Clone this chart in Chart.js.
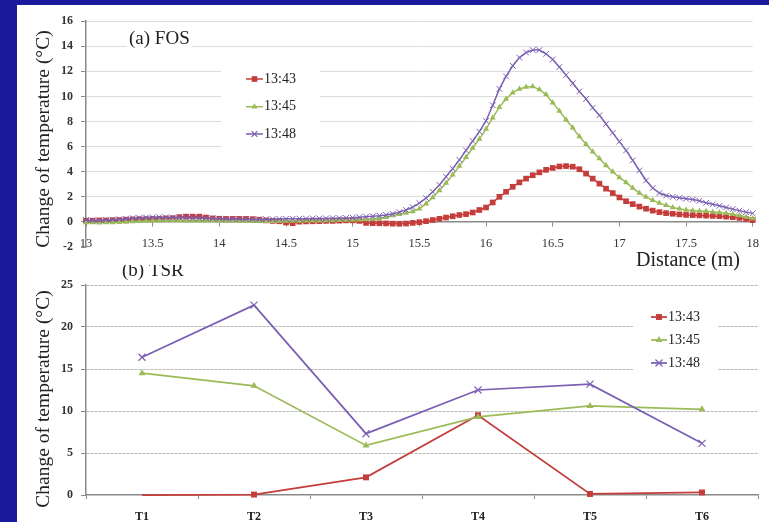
<!DOCTYPE html>
<html>
<head>
<meta charset="utf-8">
<script src="https://cdn.jsdelivr.net/npm/chart.js@4.4.1/dist/chart.umd.min.js"></script>
<style>
  html, body { margin: 0; padding: 0; width: 769px; height: 522px; overflow: hidden; background: #1a1a9c; }
  #panel { position: absolute; left: 17px; top: 5px; width: 752px; height: 517px; background: #ffffff; }
  #tsr { position: absolute; left: 17px; top: 265px; }
  #fos { position: absolute; left: 17px; top: 6px; }
</style>
</head>
<body>
<div id="panel"></div>
<canvas id="tsr" width="752" height="257"></canvas>
<canvas id="fos" width="752" height="266"></canvas>
<script>
// ---- (a) FOS: temperature change along the fibre (distance in m) ----
const distance = [
  13.00, 13.05, 13.10, 13.15, 13.20, 13.25, 13.30, 13.35, 13.40, 13.45,
  13.50, 13.55, 13.60, 13.65, 13.70, 13.75, 13.80, 13.85, 13.90, 13.95,
  14.00, 14.05, 14.10, 14.15, 14.20, 14.25, 14.30, 14.35, 14.40, 14.45,
  14.50, 14.55, 14.60, 14.65, 14.70, 14.75, 14.80, 14.85, 14.90, 14.95,
  15.00, 15.05, 15.10, 15.15, 15.20, 15.25, 15.30, 15.35, 15.40, 15.45,
  15.50, 15.55, 15.60, 15.65, 15.70, 15.75, 15.80, 15.85, 15.90, 15.95,
  16.00, 16.05, 16.10, 16.15, 16.20, 16.25, 16.30, 16.35, 16.40, 16.45,
  16.50, 16.55, 16.60, 16.65, 16.70, 16.75, 16.80, 16.85, 16.90, 16.95,
  17.00, 17.05, 17.10, 17.15, 17.20, 17.25, 17.30, 17.35, 17.40, 17.45,
  17.50, 17.55, 17.60, 17.65, 17.70, 17.75, 17.80, 17.85, 17.90, 17.95,
  18.00
];
const fos1343 = [
  0.10, 0.10, 0.12, 0.12, 0.14, 0.15, 0.18, 0.20, 0.22, 0.22,
  0.24, 0.25, 0.28, 0.30, 0.38, 0.42, 0.42, 0.42, 0.35, 0.28,
  0.25, 0.24, 0.24, 0.24, 0.24, 0.22, 0.18, 0.12, 0.08, 0.05,
  -0.05, -0.10, 0.02, 0.04, 0.05, 0.06, 0.08, 0.08, 0.10, 0.12,
  0.12, 0.08, -0.08, -0.10, -0.11, -0.12, -0.14, -0.15, -0.13, -0.08,
  -0.02, 0.06, 0.15, 0.25, 0.35, 0.45, 0.55, 0.62, 0.75, 0.95,
  1.15, 1.55, 2.00, 2.40, 2.80, 3.15, 3.45, 3.72, 3.95, 4.15,
  4.30, 4.42, 4.45, 4.40, 4.20, 3.85, 3.45, 3.05, 2.65, 2.30,
  1.95, 1.65, 1.42, 1.22, 1.05, 0.90, 0.78, 0.70, 0.65, 0.60,
  0.56, 0.54, 0.52, 0.50, 0.48, 0.46, 0.42, 0.38, 0.32, 0.24,
  0.14
];
const fos1345 = [
  -0.05, -0.05, -0.06, -0.05, -0.04, -0.02, 0.00, 0.03, 0.05, 0.07,
  0.10, 0.10, 0.12, 0.12, 0.12, 0.10, 0.10, 0.10, 0.10, 0.10,
  0.10, 0.08, 0.08, 0.06, 0.05, 0.05, 0.05, 0.05, 0.06, 0.06,
  0.07, 0.08, 0.08, 0.10, 0.10, 0.10, 0.12, 0.12, 0.14, 0.15,
  0.16, 0.18, 0.20, 0.22, 0.28, 0.38, 0.52, 0.62, 0.72, 0.82,
  1.05, 1.45, 1.95, 2.50, 3.10, 3.75, 4.45, 5.15, 5.90, 6.60,
  7.40, 8.30, 9.15, 9.80, 10.30, 10.60, 10.75, 10.80, 10.55, 10.15,
  9.50, 8.85, 8.15, 7.50, 6.80, 6.20, 5.60, 5.05, 4.50, 4.00,
  3.55, 3.15, 2.70, 2.30, 1.98, 1.72, 1.50, 1.32, 1.15, 1.05,
  0.95, 0.90, 0.86, 0.84, 0.80, 0.76, 0.70, 0.62, 0.52, 0.40,
  0.28
];
const fos1348 = [
  0.15, 0.12, 0.12, 0.15, 0.18, 0.22, 0.25, 0.30, 0.32, 0.35,
  0.36, 0.38, 0.36, 0.35, 0.36, 0.34, 0.32, 0.30, 0.30, 0.28,
  0.26, 0.25, 0.24, 0.22, 0.22, 0.20, 0.20, 0.22, 0.22, 0.24,
  0.25, 0.25, 0.26, 0.26, 0.28, 0.27, 0.28, 0.30, 0.30, 0.32,
  0.34, 0.38, 0.42, 0.46, 0.50, 0.56, 0.65, 0.78, 0.95, 1.18,
  1.50, 1.90, 2.40, 2.95, 3.60, 4.25, 4.95, 5.70, 6.45, 7.20,
  8.05, 9.30, 10.60, 11.60, 12.45, 13.10, 13.50, 13.70, 13.70, 13.40,
  12.95, 12.35, 11.70, 11.05, 10.40, 9.80, 9.10, 8.50, 7.80, 7.10,
  6.40, 5.70, 4.90, 4.10, 3.30, 2.70, 2.30, 2.10, 2.00, 1.92,
  1.85, 1.78, 1.68, 1.52, 1.40, 1.28, 1.15, 1.02, 0.90, 0.78,
  0.68
];

// ---- (b) TSR: thermistor readings at six sensors ----
const tsrLabels = ['T1', 'T2', 'T3', 'T4', 'T5', 'T6'];
const tsr1343 = [0, 0.05, 2.1, 9.5, 0.12, 0.3];
const tsr1345 = [14.5, 13.0, 5.9, 9.3, 10.6, 10.2];
const tsr1348 = [16.4, 22.6, 7.3, 12.5, 13.2, 6.15];

const seriesNames = ['13:43', '13:45', '13:48'];

const RED = '#c43d3a';
const GREEN = '#9bbb59';
const PURPLE = '#7b5fb3';
const AXIS = '#8a8a8a';
const SERIF = '"Liberation Serif", "Times New Roman", serif';

function drawMarker(ctx, style, x, y, r, color) {
  ctx.save();
  ctx.fillStyle = color;
  ctx.strokeStyle = color;
  ctx.lineWidth = 1.2;
  ctx.beginPath();
  if (style === 'rect') {
    const s = r * Math.SQRT1_2;
    ctx.rect(x - s, y - s, 2 * s, 2 * s);
    ctx.fill();
  } else if (style === 'triangle') {
    let a = 0;
    ctx.moveTo(x + Math.sin(a) * r, y - Math.cos(a) * r);
    a += Math.PI * 2 / 3;
    ctx.lineTo(x + Math.sin(a) * r, y - Math.cos(a) * r);
    a += Math.PI * 2 / 3;
    ctx.lineTo(x + Math.sin(a) * r, y - Math.cos(a) * r);
    ctx.closePath();
    ctx.fill();
  } else {
    const s = r * Math.SQRT1_2;
    ctx.moveTo(x - s, y - s); ctx.lineTo(x + s, y + s);
    ctx.moveTo(x - s, y + s); ctx.lineTo(x + s, y - s);
    ctx.stroke();
  }
  ctx.restore();
}

// Panel captions, rotated axis title and the in-plot legend box
const decor = {
  id: 'decor',
  afterDraw(chart, args, o) {
    const ctx = chart.ctx;
    ctx.save();
    (o.texts || []).forEach(t => {
      ctx.font = t.font;
      if (t.rotate) {
        ctx.save();
        ctx.translate(t.x, t.y);
        ctx.rotate(-Math.PI / 2);
        ctx.textAlign = 'center';
        ctx.textBaseline = 'middle';
        ctx.fillStyle = '#222';
        ctx.fillText(t.text, 0, 0);
        ctx.restore();
        return;
      }
      ctx.textAlign = t.align || 'left';
      ctx.textBaseline = 'alphabetic';
      if (t.bg) {
        const w = ctx.measureText(t.text).width;
        ctx.fillStyle = '#ffffff';
        ctx.fillRect(t.x - 2, t.y - 15, w + 4, 20);
      }
      ctx.fillStyle = '#222';
      ctx.fillText(t.text, t.x, t.y);
    });
    const L = o.legend;
    if (L) {
      ctx.fillStyle = '#ffffff';
      ctx.fillRect(L.box[0], L.box[1], L.box[2], L.box[3]);
      chart.data.datasets.forEach((ds, i) => {
        const y = L.rows[i];
        ctx.strokeStyle = ds.borderColor;
        ctx.lineWidth = ds.borderWidth;
        ctx.beginPath();
        ctx.moveTo(L.x0, y);
        ctx.lineTo(L.x1, y);
        ctx.stroke();
        drawMarker(ctx, ds.pointStyle, (L.x0 + L.x1) / 2, y, L.radius[i], ds.borderColor);
        ctx.fillStyle = '#222';
        ctx.font = L.font;
        ctx.textAlign = 'left';
        ctx.textBaseline = 'middle';
        ctx.fillText(ds.label, L.x1 + 1, y);
      });
    }
    ctx.restore();
  }
};

const tickFontBold = { family: SERIF, size: 12, weight: 'bold' };

// ---------- (a) FOS ----------
const pts = vals => distance.map((d, i) => ({ x: d, y: vals[i] }));
new Chart(document.getElementById('fos'), {
  type: 'line',
  data: {
    datasets: [
      { label: seriesNames[0], data: pts(fos1343), borderColor: RED, backgroundColor: RED,
        pointBackgroundColor: RED, pointBorderColor: RED, pointStyle: 'rect', pointRadius: 4,
        pointBorderWidth: 0, borderWidth: 1.5, order: 2, clip: false },
      { label: seriesNames[1], data: pts(fos1345), borderColor: GREEN, backgroundColor: GREEN,
        pointBackgroundColor: GREEN, pointBorderColor: GREEN, pointStyle: 'triangle', pointRadius: 3.5,
        pointBorderWidth: 0, borderWidth: 1.5, order: 1, clip: false },
      { label: seriesNames[2], data: pts(fos1348), borderColor: PURPLE, backgroundColor: PURPLE,
        pointBackgroundColor: PURPLE, pointBorderColor: PURPLE, pointStyle: 'crossRot', pointRadius: 4,
        pointBorderWidth: 1, borderWidth: 1.5, order: 0, clip: false }
    ]
  },
  options: {
    responsive: false,
    animation: false,
    devicePixelRatio: 1,
    layout: { padding: { left: 10, top: 9, right: 12, bottom: 25 } },
    elements: { line: { tension: 0 } },
    plugins: {
      legend: { display: false },
      tooltip: { enabled: false },
      decor: {
        texts: [
          { text: 'Change of temperature (°C)', x: 26.5, y: 133, rotate: true, font: '19.5px ' + SERIF },
          { text: '(a) FOS', x: 112, y: 38, bg: true, font: '19px ' + SERIF },
          { text: 'Distance (m)', x: 671, y: 260, align: 'center', font: '20px ' + SERIF }
        ],
        legend: { box: [204, 52, 99, 92], rows: [73, 100.7, 128], x0: 229, x1: 246,
                  radius: [4, 3.5, 4], font: '14px ' + SERIF }
      }
    },
    scales: {
      x: {
        type: 'linear', position: { y: 0 }, min: 13, max: 18,
        ticks: { stepSize: 0.5, autoSkip: false, maxRotation: 0, padding: 10,
                 color: '#333', font: { family: SERIF, size: 12.5 }, callback: v => String(v) },
        grid: { drawOnChartArea: false, tickLength: 4, color: AXIS },
        border: { color: AXIS, width: 1.5 },
        afterFit(s) { s.height = 0; }
      },
      y: {
        min: -2, max: 16,
        ticks: { stepSize: 2, padding: 8, color: '#333', font: tickFontBold, callback: v => String(v) },
        grid: { color: c => (c.tick && c.tick.value === -2) ? 'rgba(0,0,0,0)' : '#dcdcdc',
                tickColor: AXIS, tickLength: 5 },
        border: { color: AXIS, width: 1.5 },
        afterFit(s) { s.width = 59; }
      }
    }
  },
  plugins: [decor]
});

// ---------- (b) TSR ----------
new Chart(document.getElementById('tsr'), {
  type: 'line',
  data: {
    labels: tsrLabels,
    datasets: [
      { label: seriesNames[0], data: tsr1343, borderColor: RED, backgroundColor: RED,
        pointBackgroundColor: RED, pointBorderColor: RED, pointStyle: 'rect',
        pointRadius: [0, 4.2, 4.2, 4.2, 4.2, 4.2], pointBorderWidth: 0, borderWidth: 1.75, order: 2, clip: false },
      { label: seriesNames[1], data: tsr1345, borderColor: GREEN, backgroundColor: GREEN,
        pointBackgroundColor: GREEN, pointBorderColor: GREEN, pointStyle: 'triangle', pointRadius: 4,
        pointBorderWidth: 0, borderWidth: 1.75, order: 1, clip: false },
      { label: seriesNames[2], data: tsr1348, borderColor: PURPLE, backgroundColor: PURPLE,
        pointBackgroundColor: PURPLE, pointBorderColor: PURPLE, pointStyle: 'crossRot', pointRadius: 5,
        pointBorderWidth: 1.2, borderWidth: 1.75, order: 0, clip: false }
    ]
  },
  options: {
    responsive: false,
    animation: false,
    devicePixelRatio: 1,
    layout: { padding: { left: 10, top: 20, right: 11, bottom: 0 } },
    elements: { line: { tension: 0 } },
    plugins: {
      legend: { display: false },
      tooltip: { enabled: false },
      decor: {
        texts: [
          { text: 'Change of temperature (°C)', x: 26.5, y: 134, rotate: true, font: '19.5px ' + SERIF },
          { text: '(b) TSR', x: 105, y: 11, font: '19px ' + SERIF }
        ],
        legend: { box: [616, 35, 85, 76], rows: [52, 75, 98], x0: 634, x1: 650,
                  radius: [4.2, 4, 5], font: '14px ' + SERIF }
      }
    },
    scales: {
      x: {
        offset: true,
        ticks: { padding: 11, color: '#222', font: tickFontBold },
        grid: { offset: true, drawOnChartArea: false, tickLength: 4, color: AXIS },
        border: { color: AXIS, width: 1.5 },
        afterFit(s) { s.height = 27; }
      },
      y: {
        min: 0, max: 25,
        ticks: { stepSize: 5, padding: 8, color: '#333', font: tickFontBold, callback: v => String(v) },
        grid: { color: c => (c.tick && c.tick.value === 0) ? 'rgba(0,0,0,0)' : '#b8b8b8',
                tickColor: AXIS, tickLength: 5 },
        border: { color: AXIS, width: 1.5, dash: [3, 1] },
        afterFit(s) { s.width = 59; }
      }
    }
  },
  plugins: [decor]
});
</script>
</body>
</html>
